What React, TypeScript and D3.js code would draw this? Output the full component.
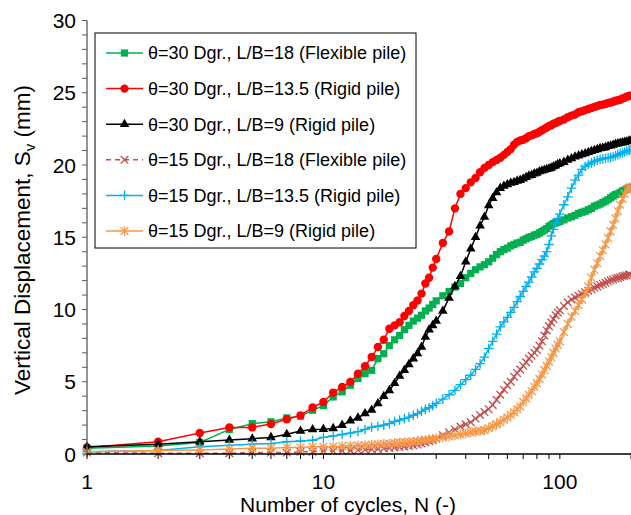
import React from 'react';
import * as d3 from 'd3';

// Number of cycles (shared by all series)
const cycles = [
  1, 2, 3, 4, 5, 6, 7, 8, 9, 10,
  11, 12, 13, 14, 15, 16, 17, 18, 19, 20,
  21, 22, 23, 24, 25, 26, 27, 28, 29, 30,
  32, 34, 36, 38, 40, 42, 44, 46, 48, 50,
  52, 54, 56, 58, 60, 62, 64, 66, 68, 70,
  72, 74, 76, 78, 80, 82, 84, 86, 88, 90,
  92, 94, 96, 98, 100,
  104, 108, 112, 116, 120, 124, 128, 132, 136, 140,
  144, 148, 152, 156, 160, 164, 168, 172, 176, 180,
  184, 188, 192, 196, 198,
];

// θ=30 Dgr., L/B=18 (Flexible pile)
const t30_lb18 = [
  0.4, 0.55, 0.8, 1.7, 2.1, 2.23, 2.5, 2.62, 3.03, 3.35,
  3.95, 4.3, 4.76, 5.22, 5.56, 5.79, 6.6, 6.94, 7.5, 7.9,
  8.2, 8.6, 8.9, 9.2, 9.4, 9.6, 9.9, 10.1, 10.35, 10.6,
  10.95, 11.25, 11.55, 11.8, 12.2, 12.5, 12.75, 12.95, 13.1, 13.3,
  13.55, 13.8, 14.0, 14.15, 14.25, 14.4, 14.5, 14.6, 14.65, 14.8,
  14.9, 15.0, 15.05, 15.15, 15.2, 15.3, 15.4, 15.5, 15.6, 15.75,
  15.85, 15.95, 16.0, 16.05, 16.1,
  16.2, 16.33, 16.42, 16.52, 16.65, 16.73, 16.8, 16.9, 17.0, 17.15,
  17.22, 17.3, 17.4, 17.5, 17.6, 17.73, 17.85, 17.95, 18.0, 18.1,
  18.2, 18.27, 18.35, 18.42, 18.45,
];

// θ=30 Dgr., L/B=13.5 (Rigid pile)
const t30_lb135 = [
  0.45, 0.85, 1.45, 1.84, 1.84, 2.07, 2.41, 2.67, 3.22, 3.6,
  4.25, 4.64, 4.99, 5.56, 6.07, 6.71, 7.4, 7.91, 8.67, 8.9,
  9.12, 9.55, 9.9, 10.3, 10.62, 11.1, 11.8, 12.2, 12.9, 13.5,
  14.6, 15.4, 17.0, 18.0, 18.4, 18.8, 19.1, 19.5, 19.8, 20.0,
  20.2, 20.35, 20.5, 20.7, 20.9, 21.1, 21.4, 21.6, 21.7, 21.75,
  21.85, 22.0, 22.05, 22.15, 22.2, 22.3, 22.4, 22.5, 22.6, 22.7,
  22.75, 22.85, 22.9, 23.0, 23.05,
  23.15, 23.3, 23.42, 23.5, 23.65, 23.72, 23.8, 23.88, 23.95, 24.02,
  24.08, 24.15, 24.18, 24.22, 24.3, 24.33, 24.38, 24.45, 24.48, 24.52,
  24.6, 24.65, 24.72, 24.78, 24.8,
];

// θ=30 Dgr., L/B=9 (Rigid pile)
const t30_lb9 = [
  0.5, 0.67, 0.85, 0.97, 1.06, 1.15, 1.36, 1.59, 1.7, 1.72,
  1.77, 2.0, 2.3, 2.5, 2.8, 3.05, 3.5, 4.0, 4.4, 4.9,
  5.4, 5.8, 6.2, 6.6, 6.95, 7.4, 8.1, 8.6, 8.9, 9.2,
  9.9, 10.8, 11.6, 12.3, 13.3, 14.2, 15.0, 15.8, 16.4, 17.2,
  17.7, 18.1, 18.4, 18.55, 18.65, 18.75, 18.8, 18.9, 18.95, 19.05,
  19.15, 19.25, 19.3, 19.4, 19.45, 19.55, 19.6, 19.65, 19.7, 19.75,
  19.8, 19.9, 19.95, 20.05, 20.1,
  20.2, 20.35, 20.45, 20.57, 20.65, 20.73, 20.8, 20.88, 20.95, 21.02,
  21.08, 21.15, 21.18, 21.22, 21.3, 21.33, 21.38, 21.45, 21.48, 21.52,
  21.55, 21.58, 21.62, 21.65, 21.67,
];

// θ=15 Dgr., L/B=18 (Flexible pile)
const t15_lb18 = [
  0.1, 0.05, 0.05, 0.05, 0.1, 0.1, 0.1, 0.15, 0.15, 0.2,
  0.2, 0.22, 0.24, 0.27, 0.3, 0.32, 0.35, 0.38, 0.42, 0.45,
  0.48, 0.52, 0.56, 0.6, 0.65, 0.72, 0.8, 0.88, 0.96, 1.05,
  1.3, 1.5, 1.7, 1.9, 2.05, 2.2, 2.45, 2.7, 2.9, 3.1,
  3.4, 3.75, 4.1, 4.45, 4.75, 5.0, 5.35, 5.6, 5.85, 6.1,
  6.35, 6.6, 6.8, 7.0, 7.2, 7.5, 7.8, 8.2, 8.55, 8.85,
  9.1, 9.35, 9.6, 9.8, 9.95,
  10.25, 10.5, 10.7, 10.83, 10.95, 11.07, 11.2, 11.3, 11.4, 11.5,
  11.6, 11.7, 11.77, 11.85, 11.95, 12.02, 12.08, 12.15, 12.18, 12.23,
  12.3, 12.33, 12.36, 12.4, 12.42,
];

// θ=15 Dgr., L/B=13.5 (Rigid pile)
const t15_lb135 = [
  0.15, 0.25, 0.5, 0.6, 0.68, 0.72, 0.85, 0.9, 0.95, 1.15,
  1.25, 1.35, 1.45, 1.55, 1.7, 1.85, 1.92, 2.0, 2.1, 2.25,
  2.35, 2.45, 2.55, 2.68, 2.8, 2.95, 3.1, 3.2, 3.35, 3.5,
  3.8, 4.1, 4.4, 4.8, 5.15, 5.45, 5.85, 6.25, 6.7, 7.3,
  7.8, 8.3, 8.8, 9.15, 9.45, 9.8, 10.15, 10.55, 10.9, 11.25,
  11.6, 11.9, 12.25, 12.6, 12.85, 13.15, 13.45, 13.7, 14.0, 14.5,
  15.1, 15.55, 16.0, 16.3, 16.6,
  17.25, 17.8, 18.4, 18.95, 19.3, 19.7, 19.9, 20.05, 20.15, 20.25,
  20.33, 20.4, 20.43, 20.47, 20.5, 20.53, 20.58, 20.65, 20.72, 20.78,
  20.85, 20.9, 20.97, 21.03, 21.05,
];

// θ=15 Dgr., L/B=9 (Rigid pile)
const t15_lb9 = [
  0.15, 0.25, 0.28, 0.34, 0.4, 0.4, 0.45, 0.45, 0.5, 0.5,
  0.52, 0.55, 0.57, 0.6, 0.62, 0.65, 0.67, 0.7, 0.72, 0.75,
  0.78, 0.8, 0.83, 0.86, 0.9, 0.93, 0.97, 1.0, 1.04, 1.08,
  1.15, 1.22, 1.28, 1.35, 1.42, 1.5, 1.55, 1.6, 1.65, 1.8,
  1.93, 2.07, 2.2, 2.37, 2.53, 2.7, 2.9, 3.1, 3.3, 3.6,
  3.85, 4.1, 4.35, 4.65, 4.9, 5.2, 5.5, 5.8, 6.1, 6.4,
  6.7, 7.0, 7.3, 7.55, 7.8,
  8.45, 9.0, 9.5, 9.9, 10.3, 10.7, 11.1, 11.6, 12.2, 12.75,
  13.2, 13.7, 14.1, 14.5, 14.95, 15.4, 15.85, 16.3, 16.8, 17.25,
  17.65, 18.0, 18.3, 18.4, 18.45,
];

const seriesNames = [
  'θ=30 Dgr., L/B=18 (Flexible pile)',
  'θ=30 Dgr., L/B=13.5 (Rigid pile)',
  'θ=30 Dgr., L/B=9 (Rigid pile)',
  'θ=15 Dgr., L/B=18 (Flexible pile)',
  'θ=15 Dgr., L/B=13.5 (Rigid pile)',
  'θ=15 Dgr., L/B=9 (Rigid pile)',
];
const seriesValues = [t30_lb18, t30_lb135, t30_lb9, t15_lb18, t15_lb135, t15_lb9];
const seriesColors = ['#00B050', '#FF0000', '#000000', '#C0504D', '#00B0F0', '#F79646'];
const seriesMarkers = ['square', 'circle', 'triangle', 'x', 'plus', 'star'];
const seriesDash = [null, null, null, '5,4', null, null];

const xMajorTicks = [1, 10, 100];
const xMinorTicks = [2, 3, 4, 5, 6, 7, 8, 9, 20, 30, 40, 50, 60, 70, 80, 90, 200];
const yMajorTicks = [0, 5, 10, 15, 20, 25, 30];
const yMinorTicks = d3.range(0, 31, 1);

const FONT = '"Liberation Sans", Arial, sans-serif';

function Marker({ kind, color, cx, cy }: { kind: string; color: string; cx: number; cy: number }) {
  const t = `translate(${cx},${cy})`;
  if (kind === 'square') {
    return <path transform={t} d={d3.symbol(d3.symbolSquare, 52)() as string} fill={color} />;
  }
  if (kind === 'circle') {
    return <circle cx={cx} cy={cy} r={4.2} fill={color} />;
  }
  if (kind === 'triangle') {
    return <path transform={t} d={d3.symbol(d3.symbolTriangle, 40)() as string} fill={color} />;
  }
  if (kind === 'x') {
    return (
      <path transform={t} d="M-3.8,-3.8L3.8,3.8M-3.8,3.8L3.8,-3.8" stroke={color} strokeWidth={1.3} fill="none" />
    );
  }
  if (kind === 'plus') {
    return <path transform={t} d="M-4.8,0H4.8M0,-4.8V4.8" stroke={color} strokeWidth={1.3} fill="none" />;
  }
  // star (asterisk)
  return (
    <path
      transform={t}
      d="M-3.9,-3.9L3.9,3.9M-3.9,3.9L3.9,-3.9M0,-4.8V4.8"
      stroke={color}
      strokeWidth={1.3}
      fill="none"
    />
  );
}

export default function App() {
  const W = 631;
  const H = 515;
  const x = d3.scaleLog().domain([1, 200]).range([87, 631]);
  const y = d3.scaleLinear().domain([0, 30]).range([454, 20.5]);
  const x0 = x(1);
  const y0 = y(0);

  const line = d3
    .line<[number, number]>()
    .x((d) => x(d[0]))
    .y((d) => y(d[1]));

  const legendX = 95;
  const legendY = 33;
  const legendW = 321;
  const legendH = 215;
  const rowY = (i: number) => 53 + i * 35.6;

  return (
    <svg
      width={W}
      height={H}
      style={{ position: 'absolute', left: 0, top: 0, background: '#fff' }}
      fontFamily={FONT}
    >
      <rect x={0} y={0} width={W} height={H} fill="#fff" />

      {/* series */}
      {seriesValues.map((vals, si) => {
        const pts = cycles.map((c, i) => [c, vals[i]] as [number, number]);
        return (
          <g key={si}>
            <path
              d={line(pts) as string}
              fill="none"
              stroke={seriesColors[si]}
              strokeWidth={1.5}
              strokeDasharray={seriesDash[si] ?? undefined}
            />
            {pts.map((p, i) => (
              <Marker key={i} kind={seriesMarkers[si]} color={seriesColors[si]} cx={x(p[0])} cy={y(p[1])} />
            ))}
          </g>
        );
      })}

      {/* axes */}
      <line x1={x0} x2={x0} y1={y(30)} y2={y0} stroke="#595959" strokeWidth={1.3} />
      <line x1={x0} x2={631} y1={y0} y2={y0} stroke="#000" strokeWidth={1.3} />
      {yMinorTicks.map((v) => (
        <line key={'ym' + v} x1={x0 - 5} x2={x0} y1={y(v)} y2={y(v)} stroke="#595959" strokeWidth={1} />
      ))}
      {yMajorTicks.map((v) => (
        <text key={'yl' + v} x={76} y={y(v)} dy="0.36em" textAnchor="end" fontSize={21} fill="#000">
          {v}
        </text>
      ))}
      {[...xMajorTicks, ...xMinorTicks].map((v) => (
        <line key={'xt' + v} x1={x(v)} x2={x(v)} y1={y0} y2={y0 + 5} stroke="#000" strokeWidth={1} />
      ))}
      {xMajorTicks.map((v) => (
        <text key={'xl' + v} x={x(v)} y={489} textAnchor="middle" fontSize={21} fill="#000">
          {v}
        </text>
      ))}

      <text x={348} y={512} textAnchor="middle" fontSize={21} fill="#000">
        Number of cycles, N (-)
      </text>
      <text transform={`translate(30,240) rotate(-90)`} textAnchor="middle" fontSize={22.5} fill="#000">
        Vertical Displacement, S
        <tspan fontSize={15} dy={5}>v</tspan>
        <tspan dy={-5}> (mm)</tspan>
      </text>

      {/* legend */}
      <rect x={legendX} y={legendY} width={legendW} height={legendH} fill="#fff" stroke="#000" strokeWidth={1} />
      {seriesNames.map((name, i) => (
        <g key={'lg' + i}>
          <line
            x1={106}
            x2={143}
            y1={rowY(i)}
            y2={rowY(i)}
            stroke={seriesColors[i]}
            strokeWidth={1.5}
            strokeDasharray={seriesDash[i] ?? undefined}
          />
          <Marker kind={seriesMarkers[i]} color={seriesColors[i]} cx={124.5} cy={rowY(i)} />
          <text x={148} y={rowY(i)} dy="0.36em" fontSize={18} fill="#000">
            {name}
          </text>
        </g>
      ))}
    </svg>
  );
}
